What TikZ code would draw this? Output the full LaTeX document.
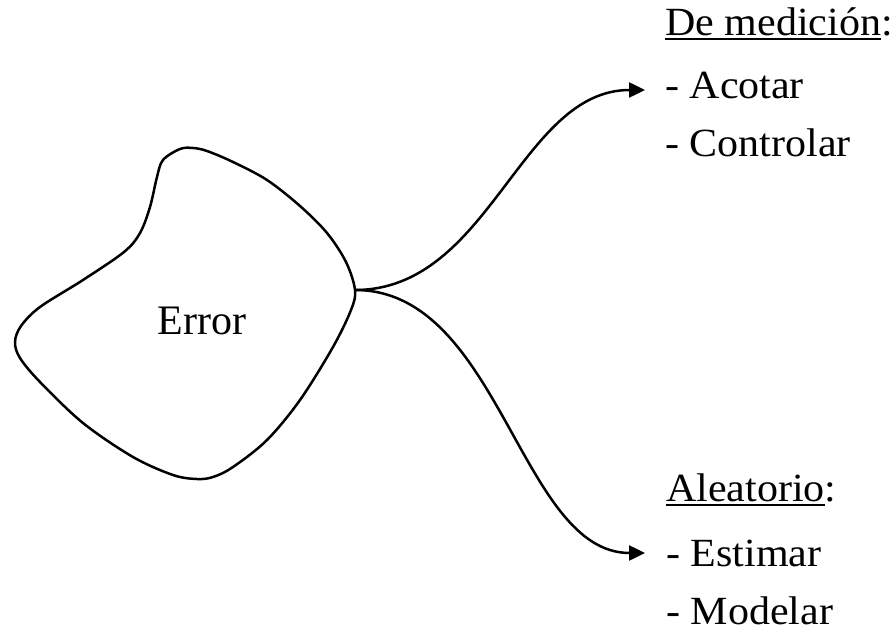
\documentclass[tikz,border=0pt]{standalone}
\usepackage{fontspec}
\setmainfont{Liberation Serif}
\usetikzlibrary{arrows.meta}
\newcommand{\myul}[2]{\setbox0=\hbox{#2}\rlap{\rule[-#1]{\wd0}{2pt}}\box0}
\newcommand{\wide}[1]{\scalebox{1.05}[1]{#1}}
\begin{document}
\begin{tikzpicture}[x=1pt,y=-1pt,
  txt/.style={anchor=base west,inner sep=0pt,font=\fontsize{40}{48}\selectfont},
  blobline/.style={line width=2.5pt,line join=round},
  branch/.style={line width=2.5pt,-{Triangle[length=16pt,width=15pt]}}]
\useasboundingbox (0,0) rectangle (896,636);
% blob
\draw[blobline] plot[smooth cycle,tension=0.55] coordinates {
 (163,160) (180,149) (193,148) (207,151) (233,162) (267,180) (300,206)
 (327,233) (346,262) (355,290) (351,310) (333,347) (300,400) (267,440)
 (233,467) (213,477) (197,479) (173,475) (133,457) (83,423) (40,382)
 (20,358) (15,342) (21,326) (40,307) (83,280) (124,252) (140,233)
 (150,207) (157,177)};
\node[anchor=base,inner sep=0pt,font=\fontsize{42}{50}\selectfont] (err) at (202,334) {Error};
\coordinate (br) at (355,290);
\coordinate (tipA) at (645,90);
\coordinate (tipB) at (645,553);
% texts
\node[txt] (med) at (665,36) {\wide{\myul{4pt}{De medición}:}};
\node[txt] (aco) at (665,99) {\wide{- Acotar}};
\node[txt] (con) at (665,157) {\wide{- Controlar}};
\node[txt] (ale) at (666,501) {\wide{\myul{5pt}{Aleatorio}:}};
\node[txt] (est) at (666,566) {\wide{- Estimar}};
\node[txt] (mod) at (666,624) {\wide{- Modelar}};
% connectors
\draw[branch] (br) .. controls (490,290) and (520,90) .. (tipA);
\draw[branch] (br) .. controls (500,290) and (520,553) .. (tipB);
\end{tikzpicture}
\end{document}
